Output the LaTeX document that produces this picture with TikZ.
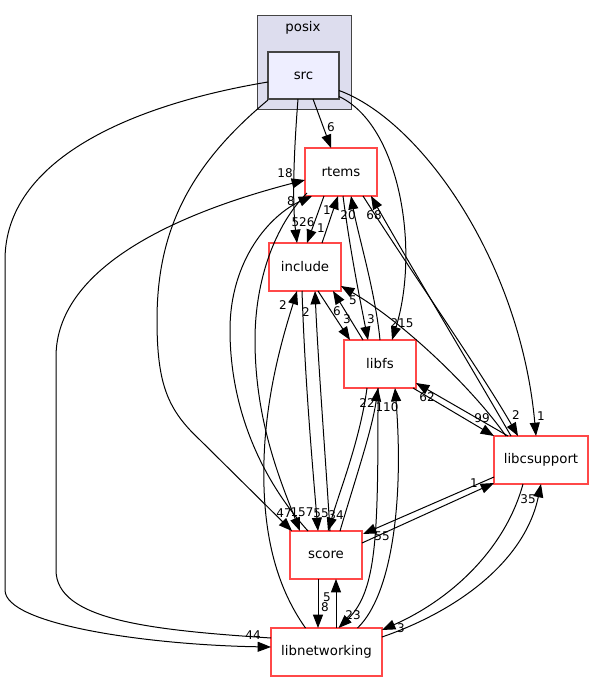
\documentclass[tikz,border=0pt]{standalone}
\usepackage{fontspec}
\setmainfont{DejaVu Sans}
\usetikzlibrary{arrows.meta,calc}
\definecolor{redline}{RGB}{255,72,72}
\definecolor{clusterfill}{RGB}{221,221,238}
\definecolor{srcfill}{RGB}{238,238,255}
\definecolor{darkborder}{RGB}{68,68,68}
\begin{document}
\begin{tikzpicture}[x=0.75pt,y=-0.75pt,
  dirbox/.style={draw=redline, line width=1.1pt, fill=white, inner sep=0pt, outer sep=0pt, minimum height=36pt, font=\fontsize{10}{12}\selectfont},
  dep/.style={draw=black, line width=0.75pt, -{Triangle[length=10pt,width=7.5pt]}},
  lbl/.style={inner sep=0pt, font=\fontsize{9}{10}\selectfont}]
\useasboundingbox (0,0) rectangle (594,681);
% cluster
\node[draw=darkborder, fill=clusterfill, line width=0.75pt, inner sep=0pt, outer sep=0pt, minimum width=70.5pt, minimum height=70.5pt] (posix) at (304,63) {};
\node[inner sep=0pt, font=\fontsize{10}{12}\selectfont] (posixlbl) at (303,28) {posix};
\node[draw=darkborder, fill=srcfill, line width=1.4pt, inner sep=0pt, outer sep=0pt, minimum width=53.25pt, minimum height=35.25pt, font=\fontsize{10}{12}\selectfont] (src) at (303.5,75.5) {src};
% nodes
\node[dirbox, minimum width=54pt] (rtems) at (341,172) {rtems};
\node[dirbox, minimum width=54pt] (include) at (305,267) {include};
\node[dirbox, minimum width=54pt] (libfs) at (380,364) {libfs};
\node[dirbox, minimum width=70.5pt] (libcsupport) at (541,460) {libcsupport};
\node[dirbox, minimum width=54pt] (score) at (326,555) {score};
\node[dirbox, minimum width=83.25pt] (libnetworking) at (326.5,652) {libnetworking};
% edges from src
\draw[dep] ($(src.south)+(9.5,0)$) -- ($(rtems.north)+(-10,0)$);
\draw[dep] ($(src.south)+(-5.5,0)$) .. controls (294,150) and (292,200) .. ($(include.north)+(-8,0)$);
\draw[dep] ($(src.east)+(0,21)$) .. controls (400,125) and (420,250) .. ($(libfs.north)+(12,0)$);
\draw[dep] ($(src.east)+(0,15)$) .. controls (420,120) and (520,260) .. ($(libcsupport.north)+(-5,0)$);
\draw[dep] ($(src.south west)+(0,1)$) .. controls (190,165) and (157,230) .. (157,320) .. controls (157,385) and (168,410) .. (200,440) -- ($(score.north)+(-34,0)$);
\draw[dep] ($(src.west)+(0,6.5)$) .. controls (130,105) and (5,160) .. (5,260) -- (5,590) .. controls (5,625) and (150,645) .. ($(libnetworking.west)+(0,-5)$);
% rtems / include / libfs / libcsupport
\draw[dep] ($(rtems.south)+(-17,0)$) -- ($(include.north)+(2,0)$);
\draw[dep] ($(include.north)+(17,0)$) -- ($(rtems.south)+(-3,0)$);
\draw[dep] (libfs.north) .. controls (375,290) and (358,235) .. ($(rtems.south)+(10,0)$);
\draw[dep] ($(rtems.south)+(2,0)$) .. controls (350,250) and (360,300) .. ($(libfs.north)+(-12,0)$);
\draw[dep] ($(libcsupport.north)+(-30,0)$) .. controls (470,365) and (410,265) .. ($(rtems.south)+(30,0)$);
\draw[dep] ($(rtems.south)+(22,0)$) .. controls (410,270) and (480,370) .. ($(libcsupport.north)+(-23,0)$);
\draw[dep] ($(libcsupport.north)+(-35,0)$) .. controls (470,385) and (400,320) .. ($(include.east)+(0,19)$);
\draw[dep] ($(include.south)+(13,0)$) -- ($(libfs.north)+(-30,0)$);
\draw[dep] ($(libfs.north)+(-17,0)$) -- ($(include.south)+(28,0)$);
\draw[dep] ($(libfs.south east)+(-3,0)$) -- (libcsupport.north west);
\draw[dep] ($(libcsupport.north)+(-33,0)$) -- ($(libfs.south east)+(0,-5)$);
% include / score / rtems
\draw[dep] ($(libnetworking.north)+(-21,0)$) .. controls (275,585) and (262,530) .. (264,460) .. controls (266,390) and (285,330) .. ($(include.south)+(-8,0)$);
\draw[dep] ($(include.south)+(-3,0)$) .. controls (305,380) and (312,460) .. ($(score.north)+(-8,0)$);
\draw[dep] ($(score.north)+(4,0)$) .. controls (325,450) and (318,360) .. ($(include.south)+(10,0)$);
\draw[dep] ($(rtems.south west)+(2,-3)$) .. controls (275,225) and (255,280) .. (255,340) .. controls (255,420) and (280,480) .. ($(score.north)+(-26,0)$);
\draw[dep] ($(score.north)+(-18,0)$) .. controls (262,480) and (230,410) .. (230,330) .. controls (230,260) and (270,215) .. ($(rtems.south west)+(7,0)$);
% libfs / score / libnetworking
\draw[dep] ($(libfs.south)+(-13,0)$) .. controls (360,440) and (340,490) .. ($(score.north)+(2,0)$);
\draw[dep] ($(score.north)+(14,0)$) .. controls (355,480) and (372,430) .. ($(libfs.south)+(-2,0)$);
\draw[dep] ($(libfs.south)+(-2,0)$) .. controls (378,530) and (378,590) .. ($(libnetworking.north)+(12,0)$);
\draw[dep] ($(libnetworking.north)+(31,0)$) .. controls (392,595) and (404,500) .. ($(libfs.south)+(15,0)$);
\draw[dep] ($(score.south)+(-8,0)$) -- ($(libnetworking.north)+(-8.5,0)$);
\draw[dep] ($(libnetworking.north)+(9.5,0)$) -- ($(score.south)+(10,0)$);
\draw[dep] ($(score.east)+(0,-12)$) -- ($(libcsupport.south west)+(0,-1)$);
\draw[dep] ($(libcsupport.west)+(0,17)$) -- ($(score.north east)+(1,3)$);
\draw[dep] ($(libcsupport.south)+(-18,0)$) .. controls (505,550) and (450,600) .. ($(libnetworking.east)+(0,-22)$);
\draw[dep] ($(libnetworking.east)+(0,-15)$) .. controls (460,610) and (525,560) .. (libcsupport.south);
\draw[dep] ($(libnetworking.west)+(0,-14)$) .. controls (150,630) and (56,620) .. (56,570) -- (56,357) .. controls (56,270) and (170,215) .. ($(rtems.west)+(0,8)$);
% labels
\node[lbl] (l1) at (331,127) {6};
\node[lbl] (l2) at (303,222) {526};
\node[lbl] (l3) at (321,228) {1};
\node[lbl] (l4) at (327,210) {1};
\node[lbl] (l5) at (348,215) {20};
\node[lbl] (l6) at (374,215) {68};
\node[lbl] (l7) at (291,201) {8};
\node[lbl] (l8) at (285,173) {18};
\node[lbl] (l9) at (402,323) {215};
\node[lbl] (l10) at (541,416) {1};
\node[lbl] (l11) at (516,415) {2};
\node[lbl] (l12) at (482,418) {99};
\node[lbl] (l13) at (427,397) {62};
\node[lbl] (l14) at (353,300) {5};
\node[lbl] (l15) at (337,311) {6};
\node[lbl] (l16) at (347,319) {3};
\node[lbl] (l17) at (371,319) {3};
\node[lbl] (l18) at (283,305) {2};
\node[lbl] (l19) at (306,312) {2};
\node[lbl] (l20) at (367,403) {22};
\node[lbl] (l21) at (387,407) {110};
\node[lbl] (l22) at (284,513) {47};
\node[lbl] (l23) at (302,512) {157};
\node[lbl] (l24) at (321,513) {55};
\node[lbl] (l25) at (336,515) {34};
\node[lbl] (l26) at (382,536) {55};
\node[lbl] (l27) at (474,483) {1};
\node[lbl] (l28) at (528,499) {35};
\node[lbl] (l29) at (327,597) {5};
\node[lbl] (l30) at (325,607) {8};
\node[lbl] (l31) at (353,615) {23};
\node[lbl] (l32) at (401,628) {3};
\node[lbl] (l33) at (253,635) {44};
\end{tikzpicture}
\end{document}
